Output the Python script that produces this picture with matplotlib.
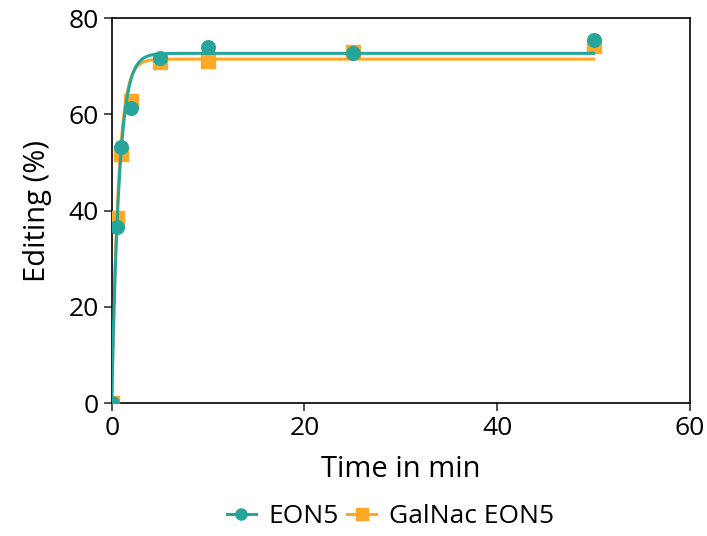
import numpy as np
import matplotlib
matplotlib.use("Agg")
import matplotlib.pyplot as plt

plt.rcParams['font.family'] = ['Open Sans', 'DejaVu Sans']

time_min = [0, 0.5, 1, 2, 5, 10, 25, 50]
eon5 = [0, 36.6, 53.2, 61.3, 71.7, 74.0, 72.8, 75.5]
galnac_eon5 = [0, 38.5, 51.8, 62.8, 70.9, 71.1, 73.0, 74.2]

# one-phase association fit parameters: plateau (%) and rate constant (1/min)
eon5_fit = (72.7, 1.30)
galnac_fit = (71.5, 1.45)

teal = '#26A69A'
orange = '#FFA726'

fig = plt.figure(figsize=(7.07, 5.36), dpi=100)
ax = fig.add_axes([0.158, 0.248, 0.818, 0.718])

t = np.linspace(0, max(time_min), 600)
series = [
    (galnac_fit, orange, 's', 'GalNac EON5', galnac_eon5, 2),
    (eon5_fit, teal, 'o', 'EON5', eon5, 4),
]
for (plateau, k), color, marker, label, vals, z in series:
    ax.plot(t, plateau * (1 - np.exp(-k * t)), color=color, lw=2.2, zorder=z)
    ax.plot(time_min, vals, linestyle='none', marker=marker, color=color,
            markersize=9.8, zorder=z + 1)

handles = [ax.plot([], [], color=c, lw=2.2, marker=m, markersize=8)[0]
           for _, c, m, _, _, _ in series[::-1]]
labels = [s[3] for s in series[::-1]]

ax.set_xlim(0, 60)
ax.set_ylim(0, 80)
ax.set_xticks([0, 20, 40, 60])
ax.set_yticks([0, 20, 40, 60, 80])
ax.tick_params(axis='both', labelsize=19, length=6, width=1.2, direction='out',
               color='#333333')
for s in ax.spines.values():
    s.set_linewidth(1.2)
ax.set_xlabel('Time in min', fontsize=21, labelpad=10)
ax.set_ylabel('Editing (%)', fontsize=21, labelpad=12)

ax.legend(handles, labels, loc='upper center', bbox_to_anchor=(0.482, -0.235),
          ncol=2, frameon=False, fontsize=19, handlelength=1.1,
          columnspacing=0.3, handletextpad=0.5, borderaxespad=0)

fig.savefig('out.png', dpi=100)
